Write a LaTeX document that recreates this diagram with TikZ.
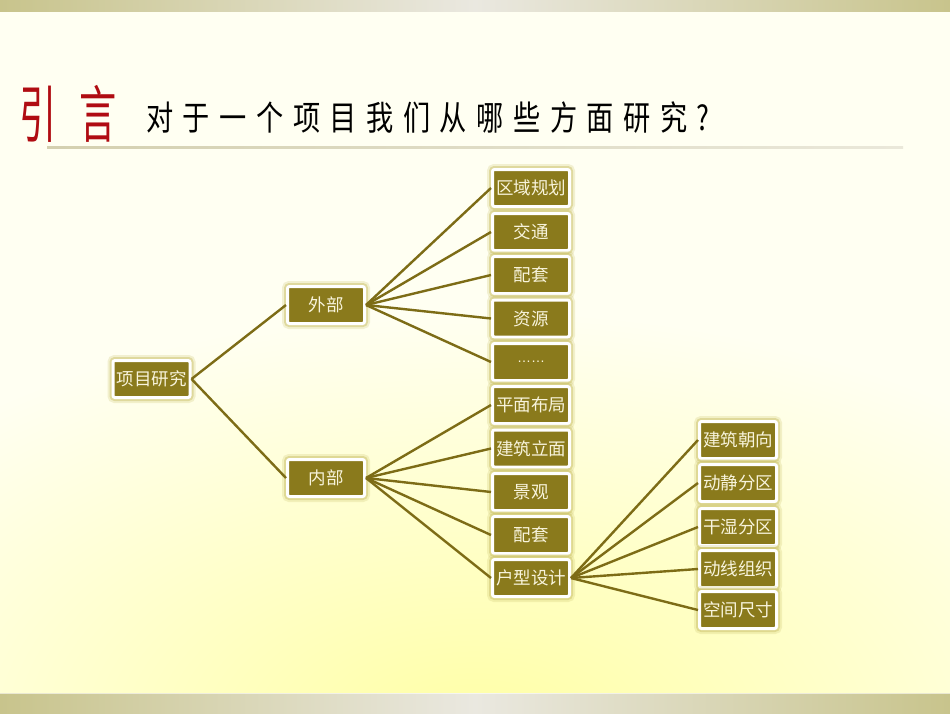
\documentclass[tikz,border=0pt]{standalone}
\usepackage{fontspec}
\setmainfont{Noto Sans CJK SC}
\newfontfamily\cjk{Noto Sans CJK SC}
\newfontfamily\titlecjk[FakeStretch=0.8,LetterSpace=28]{Noto Sans CJK SC}
\newfontfamily\bigcjk[FakeStretch=0.6,LetterSpace=38]{Noto Sans CJK SC}
\newfontfamily\latinsans{Liberation Sans}
\definecolor{bg}{RGB}{255,255,242}
\definecolor{glow}{RGB}{255,255,165}
\definecolor{band}{RGB}{200,196,140}
\definecolor{bandmid}{RGB}{234,232,224}
\definecolor{boxfill}{RGB}{138,122,28}
\definecolor{boxtext}{RGB}{248,244,220}
\definecolor{linkcol}{RGB}{125,108,22}
\definecolor{halo}{RGB}{205,196,110}
\definecolor{titlered}{RGB}{176,12,18}
\definecolor{ruleL}{RGB}{212,208,176}
\definecolor{ruleR}{RGB}{234,232,218}
\tikzset{
  box/.style={draw=white, line width=3pt, fill=boxfill, text=boxtext,
    minimum width=77pt, minimum height=37pt, inner sep=0pt, rounded corners=2pt,
    font=\cjk\fontsize{17.5}{17.5}\selectfont,
    preaction={draw=halo, line width=11pt, draw opacity=0.25},
    preaction={draw=halo, line width=7pt, draw opacity=0.5}},
  link/.style={draw=linkcol, line width=2.4pt}
}
\begin{document}
\begin{tikzpicture}[x=1pt,y=-1pt]
\useasboundingbox (0,0) rectangle (950,713);
% background
\fill[bg] (0,0) rectangle (950,713);
\begin{scope}
  \clip (0,11) rectangle (950,693);
  \shade[inner color=glow, outer color=bg] (475,730) ellipse [x radius=760, y radius=420];
\end{scope}
\shade[left color=band, right color=band, middle color=bandmid] (0,0) rectangle (950,11);
\shade[left color=band, right color=band, middle color=bandmid] (0,693) rectangle (950,713);
\fill[white, opacity=0.6] (0,692.5) rectangle (950,694);
% title
\node[anchor=west, inner sep=0pt, text=titlered, font=\bigcjk\fontsize{62}{62}\selectfont] (yin) at (19,114) {引言};
\node[anchor=west, inner sep=0pt, text=black, font=\titlecjk\fontsize{34}{34}\selectfont] (question) at (146,118) {对于一个项目我们从哪些方面研究?};
\shade[left color=ruleL, right color=ruleR] (47,146) rectangle (903,148.5);
% nodes
\node[box] (root) at (151.5,379) {项目研究};
\node[box] (ext) at (326,305) {外部};
\node[box] (int) at (326,478) {内部};
\node[box] (a1) at (531,188) {区域规划};
\node[box] (a2) at (531,232) {交通};
\node[box] (a3) at (531,275) {配套};
\node[box] (a4) at (531,318.5) {资源};
\node[box, font=\latinsans\fontsize{14}{14}\selectfont] (a5) at (531,362) {……};
\node[box] (b1) at (531,405) {平面布局};
\node[box] (b2) at (531,448.5) {建筑立面};
\node[box] (b3) at (531,492) {景观};
\node[box] (b4) at (531,535) {配套};
\node[box] (b5) at (531,578) {户型设计};
\node[box] (c1) at (738,440) {建筑朝向};
\node[box] (c2) at (738,483) {动静分区};
\node[box] (c3) at (738,527) {干湿分区};
\node[box] (c4) at (738,569) {动线组织};
\node[box] (c5) at (738,610) {空间尺寸};
% links
\draw[link] (root.east) -- (ext.west);
\draw[link] (root.east) -- (int.west);
\foreach \n in {a1,a2,a3,a4,a5} \draw[link] (ext.east) -- (\n.west);
\foreach \n in {b1,b2,b3,b4,b5} \draw[link] (int.east) -- (\n.west);
\foreach \n in {c1,c2,c3,c4,c5} \draw[link] (b5.east) -- (\n.west);
\end{tikzpicture}
\end{document}
